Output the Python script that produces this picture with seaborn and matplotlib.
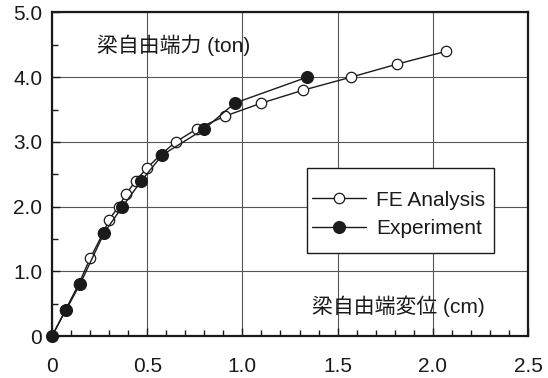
import matplotlib
matplotlib.use("Agg")
import matplotlib.pyplot as plt
import seaborn as sns
from matplotlib.patches import Rectangle
from matplotlib.ticker import MultipleLocator, FixedLocator, FixedFormatter

# Data
fe_x = [0.0, 0.07, 0.14, 0.20, 0.27, 0.30, 0.35, 0.39, 0.44, 0.50, 0.57, 0.65, 0.76, 0.91, 1.10, 1.32, 1.57, 1.81, 2.07]
fe_y = [0.0, 0.4, 0.8, 1.2, 1.6, 1.8, 2.0, 2.2, 2.4, 2.6, 2.8, 3.0, 3.2, 3.4, 3.6, 3.8, 4.0, 4.2, 4.4]
exp_x = [0.0, 0.073, 0.147, 0.275, 0.37, 0.47, 0.58, 0.80, 0.96, 1.34]
exp_y = [0.0, 0.4, 0.8, 1.6, 2.0, 2.4, 2.8, 3.2, 3.6, 4.0]
x_ticks = [0, 0.5, 1.0, 1.5, 2.0, 2.5]
x_labels = ["0", "0.5", "1.0", "1.5", "2.0", "2.5"]
y_ticks = [0, 1.0, 2.0, 3.0, 4.0, 5.0]
y_labels = ["0", "1.0", "2.0", "3.0", "4.0", "5.0"]
series_names = ["FE Analysis", "Experiment"]
y_text = "梁自由端力 (ton)"
x_text = "梁自由端変位 (cm)"

sns.set_theme(style="white")
plt.rcParams['font.family'] = ['Liberation Sans', 'Noto Sans CJK JP', 'DejaVu Sans']

fig = plt.figure(figsize=(5.48, 3.78), dpi=100)
ax = fig.add_axes([0.0949, 0.111, 0.8686, 0.856])

sns.lineplot(x=fe_x, y=fe_y, ax=ax, sort=False, estimator=None, color="#1a1a1a",
             lw=1.0, marker="o", markersize=7.5, markerfacecolor="white",
             markeredgecolor="#1a1a1a", markeredgewidth=0.9, label=series_names[0],
             zorder=3, clip_on=False)
sns.lineplot(x=exp_x, y=exp_y, ax=ax, sort=False, estimator=None, color="#1a1a1a",
             lw=1.0, marker="o", markersize=8.5, markerfacecolor="#1a1a1a",
             markeredgecolor="#1a1a1a", markeredgewidth=0.9, label=series_names[1],
             zorder=4, clip_on=False)

ax.set_xlim(0, 2.5)
ax.set_ylim(0, 5.0)
ax.xaxis.set_major_locator(FixedLocator(x_ticks))
ax.xaxis.set_major_formatter(FixedFormatter(x_labels))
ax.yaxis.set_major_locator(FixedLocator(y_ticks))
ax.yaxis.set_major_formatter(FixedFormatter(y_labels))
ax.xaxis.set_minor_locator(MultipleLocator(0.1))
ax.yaxis.set_minor_locator(MultipleLocator(0.5))
ax.tick_params(axis="both", which="both", direction="in", color="#1a1a1a")
ax.tick_params(axis="both", which="major", length=6, width=1.0, labelsize=15,
               colors="#1a1a1a")
ax.tick_params(axis="x", which="major", pad=15)
ax.tick_params(axis="y", which="major", pad=7)
ax.tick_params(axis="both", which="minor", length=4, width=1.0)
ax.tick_params(axis="x", which="both", bottom=True)
ax.tick_params(axis="y", which="both", left=True)
ax.grid(True, which="major", color="#555555", lw=0.8)
ax.set_axisbelow(True)
for s in ax.spines.values():
    s.set_color("#1a1a1a")
    s.set_linewidth(1.6)
ax.set_xlabel("")
ax.set_ylabel("")

ax.text(0.0945, 0.90, y_text, transform=ax.transAxes, fontsize=15, color="#1a1a1a",
        va="center", ha="left")
ax.text(0.546, 0.093, x_text, transform=ax.transAxes, fontsize=15, color="#1a1a1a",
        va="center", ha="left")

# legend frame as a separate box
box = Rectangle((0.536, 0.2566), 0.3926, 0.2624, transform=ax.transAxes,
                facecolor="white", edgecolor="#1a1a1a", lw=1.0, zorder=5)
ax.add_patch(box)
leg = ax.legend(loc="center left", bbox_to_anchor=(0.5455, 0.376), borderaxespad=0,
                fontsize=15, frameon=False, handlelength=2.6,
                numpoints=1, borderpad=0.0, labelspacing=0.45, handletextpad=0.5)
leg.set_zorder(6)
for t in leg.get_texts():
    t.set_color("#1a1a1a")

fig.savefig("out.png", dpi=100)
